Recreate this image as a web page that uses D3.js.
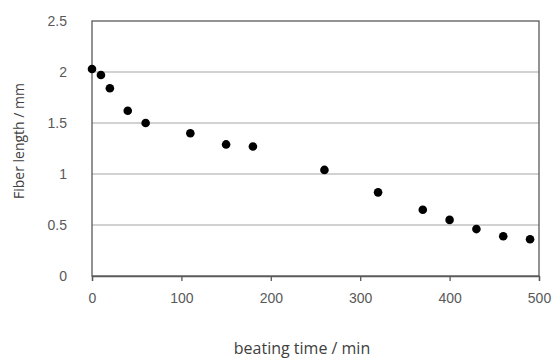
<!DOCTYPE html>
<html><head><meta charset="utf-8">
<script src="https://cdn.jsdelivr.net/npm/d3@7"></script>
<style>body{margin:0;background:#fff;}svg{display:block;}</style>
</head><body>
<script>
const beatingTime = [0, 10, 20, 40, 60, 110, 150, 180, 260, 320, 370, 400, 430, 460, 490];
const fiberLength = [2.03, 1.97, 1.84, 1.62, 1.50, 1.40, 1.29, 1.27, 1.04, 0.82, 0.65, 0.55, 0.46, 0.39, 0.36];
const xTicks = [0, 100, 200, 300, 400, 500];
const yTicks = [0, 0.5, 1, 1.5, 2, 2.5];
const xTitle = "beating time / min";
const yTitle = "Fiber length / mm";

const W = 552, H = 358;
const m = {left: 92, right: 13, top: 21, bottom: 82};
const svg = d3.select("body").append("svg").attr("width", W).attr("height", H);
const x = d3.scaleLinear().domain([0, 500]).range([m.left, W - m.right]);
const y = d3.scaleLinear().domain([0, 2.5]).range([H - m.bottom, m.top]);
const font = "'Liberation Sans', Arial, sans-serif";
const textCol = "#595959";

// gridlines
svg.append("g").selectAll("line").data(yTicks.filter(d => d > 0 && d < 2.5)).join("line")
  .attr("x1", x(0)).attr("x2", x(500)).attr("y1", d => y(d)).attr("y2", d => y(d))
  .attr("stroke", "#a6a6a6").attr("stroke-width", 1.2);

// frame
svg.append("rect").attr("x", x(0)).attr("y", y(2.5)).attr("width", x(500) - x(0)).attr("height", y(0) - y(2.5))
  .attr("fill", "none").attr("stroke", "#595959").attr("stroke-width", 1.3);

// x axis
const xa = svg.append("g").attr("transform", `translate(0,${y(0)})`)
  .call(d3.axisBottom(x).tickValues(xTicks).tickSize(5).tickPadding(12).tickFormat(d3.format("d")));
xa.select(".domain").attr("stroke", "#595959").attr("stroke-width", 1.3);
xa.selectAll(".tick line").attr("stroke", "#595959").attr("stroke-width", 1.3);
xa.selectAll("text").attr("fill", textCol).style("font-family", font).style("font-size", "14px");

// y axis
const ya = svg.append("g").attr("transform", `translate(${x(0)},0)`)
  .call(d3.axisLeft(y).tickValues(yTicks).tickSize(0).tickPadding(25).tickFormat(d => String(d)));
ya.select(".domain").remove();
ya.selectAll("text").attr("fill", textCol).style("font-family", font).style("font-size", "14px");

// points
svg.append("g").selectAll("circle").data(beatingTime.map((t, i) => [t, fiberLength[i]])).join("circle")
  .attr("cx", d => x(d[0])).attr("cy", d => y(d[1])).attr("r", 4.3).attr("fill", "#000");

// titles
svg.append("text").attr("x", 302).attr("y", 354).attr("text-anchor", "middle")
  .attr("fill", "#404040").style("font-family", "'Open Sans', sans-serif").style("font-size", "16px").text(xTitle);
svg.append("text").attr("transform", "translate(24,141) rotate(-90)").attr("text-anchor", "middle")
  .attr("fill", "#404040").style("font-family", "'Open Sans', sans-serif").style("font-size", "14px").text(yTitle);
</script>
</body></html>
